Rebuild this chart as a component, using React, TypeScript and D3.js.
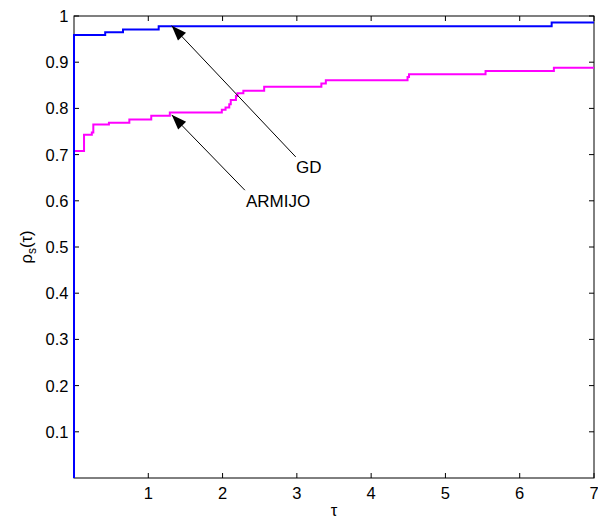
import React from "react";
import * as d3 from "d3";

const xTicks = [1, 2, 3, 4, 5, 6, 7];
const yTicks = [0.1, 0.2, 0.3, 0.4, 0.5, 0.6, 0.7, 0.8, 0.9, 1];

const gdTau = [0, 0, 0.42, 0.66, 1.14, 6.43, 7];
const gdRho = [0, 0.959, 0.965, 0.971, 0.978, 0.986, 0.986];

const armTau = [0, 0, 0.135, 0.24, 0.26, 0.47, 0.745, 1.04, 1.29, 1.99, 2.04, 2.09, 2.11, 2.18, 2.2, 2.28, 2.56, 3.33, 3.39, 4.49, 4.51, 5.54, 6.46, 7];
const armRho = [0, 0.708, 0.743, 0.748, 0.765, 0.769, 0.776, 0.784, 0.791, 0.797, 0.802, 0.809, 0.818, 0.827, 0.833, 0.838, 0.847, 0.854, 0.861, 0.868, 0.874, 0.881, 0.888, 0.888];

const annotLabels = ["GD", "ARMIJO"];
const annotTip = [[1.315, 0.979], [1.315, 0.786]];
const annotTail = [[2.985, 0.695], [2.3, 0.623]];
const annotText = [[2.99, 0.661], [2.315, 0.587]];

const W = 598, H = 518;
const L = 74, R = 594, T = 16, B = 478;
const FONT = "'Liberation Sans', Arial, Helvetica, sans-serif";

export default function App() {
  const x = d3.scaleLinear().domain([0, 7]).range([L, R]);
  const y = d3.scaleLinear().domain([0, 1]).range([B, T]);
  const line = d3
    .line<[number, number]>()
    .x((d) => x(d[0]))
    .y((d) => y(d[1]))
    .curve(d3.curveStepAfter);
  const gd = gdTau.map((t, i) => [t, gdRho[i]] as [number, number]);
  const arm = armTau.map((t, i) => [t, armRho[i]] as [number, number]);

  const arrowHead = (tip: number[], tail: number[]) => {
    const tx = x(tip[0]), ty = y(tip[1]);
    const sx = x(tail[0]), sy = y(tail[1]);
    const dx = sx - tx, dy = sy - ty;
    const len = Math.hypot(dx, dy);
    const ux = dx / len, uy = dy / len;
    const hl = 15, hw = 5.5;
    const bx = tx + ux * hl, by = ty + uy * hl;
    const px = -uy, py = ux;
    return `M${tx},${ty}L${bx + px * hw},${by + py * hw}L${bx - px * hw},${by - py * hw}Z`;
  };

  return (
    <svg
      width={W}
      height={H}
      style={{ position: "absolute", left: 0, top: 0, background: "#fff" }}
      fontFamily={FONT}
    >
      <rect x={0} y={0} width={W} height={H} fill="#fff" />
      {xTicks.map((t) => (
        <g key={"xt" + t}>
          <line x1={x(t)} x2={x(t)} y1={B} y2={B - 5} stroke="#000" strokeWidth={1} />
          <line x1={x(t)} x2={x(t)} y1={T} y2={T + 5} stroke="#000" strokeWidth={1} />
          <text x={x(t)} y={498.5} fontSize={16.5} textAnchor="middle" fill="#000">
            {t}
          </text>
        </g>
      ))}
      {yTicks.map((t) => (
        <g key={"yt" + t}>
          <line x1={L} x2={L + 5} y1={y(t)} y2={y(t)} stroke="#000" strokeWidth={1} />
          <line x1={R} x2={R - 5} y1={y(t)} y2={y(t)} stroke="#000" strokeWidth={1} />
          <text x={68.5} y={y(t) + 6} fontSize={16.5} textAnchor="end" fill="#000">
            {t === 1 ? "1" : t.toFixed(1)}
          </text>
        </g>
      ))}
      <rect x={L} y={T} width={R - L} height={B - T} fill="none" stroke="#000" strokeWidth={1} />
      <path d={line(arm) || ""} fill="none" stroke="#ff00ff" strokeWidth={2} />
      <path d={line(gd) || ""} fill="none" stroke="#0000ff" strokeWidth={2} />
      {annotLabels.map((lab, i) => (
        <g key={lab}>
          <line
            x1={x(annotTail[i][0])}
            y1={y(annotTail[i][1])}
            x2={x(annotTip[i][0])}
            y2={y(annotTip[i][1])}
            stroke="#000"
            strokeWidth={1}
          />
          <path d={arrowHead(annotTip[i], annotTail[i])} fill="#000" />
          <text x={x(annotText[i][0])} y={y(annotText[i][1])} fontSize={17} fill="#000">
            {lab}
          </text>
        </g>
      ))}
      <text x={(L + R) / 2} y={516} fontSize={16.5} textAnchor="middle" fill="#000">
        τ
      </text>
      <text
        transform={`translate(32,${(T + B) / 2}) rotate(-90)`}
        fontSize={16.5}
        textAnchor="middle"
        fill="#000"
      >
        ρ<tspan fontSize={12} dy={4}>s</tspan>
        <tspan dy={-4}>(τ)</tspan>
      </text>
    </svg>
  );
}
